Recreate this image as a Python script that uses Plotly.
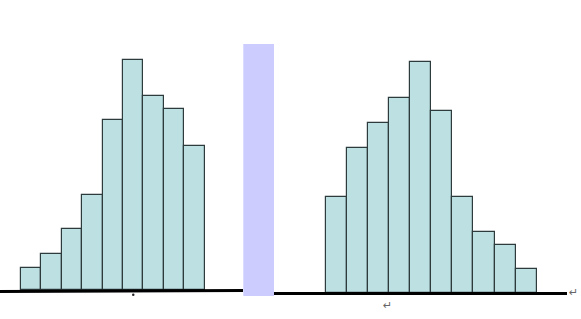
import plotly.graph_objects as go

# ---- data (bar heights) ----
left_bins = list(range(1, 10))
left_counts = [22, 36, 61, 95, 170, 230, 194, 181, 144]
right_bins = list(range(1, 11))
right_counts = [96, 145, 170, 195, 231, 182, 96, 61, 48, 24]

# ---- layout constants (pixel-like coordinate frame) ----
W, H = 581, 319
L_START, L_W, L_BASE = 20.7, 20.45, 319 - 290.0
R_START, R_W, R_BASE = 326.0, 21.07, 319 - 293.3

fill = "#bde0e3"
edge = "#2e3b3c"

fig = go.Figure()
fig.add_trace(go.Bar(
    x=[L_START + (b - 0.5) * L_W for b in left_bins],
    y=left_counts, base=L_BASE, width=L_W,
    marker=dict(color=fill, line=dict(color=edge, width=1.2)),
    hoverinfo="skip", showlegend=False))
fig.add_trace(go.Bar(
    x=[R_START + (b - 0.5) * R_W for b in right_bins],
    y=right_counts, base=R_BASE, width=R_W,
    marker=dict(color=fill, line=dict(color=edge, width=1.2)),
    hoverinfo="skip", showlegend=False))

shapes = [
    dict(type="line", x0=0, x1=243, y0=319 - 291.5, y1=319 - 290.5,
         line=dict(color="black", width=3), layer="above"),
    dict(type="line", x0=274, x1=567, y0=319 - 293.5, y1=319 - 293.5,
         line=dict(color="black", width=3), layer="above"),
    dict(type="rect", x0=243.3, x1=274, y0=319 - 296, y1=319 - 44,
         fillcolor="#ccccff", line=dict(width=0), layer="above"),
    dict(type="circle", x0=132, x1=134.5, y0=319 - 296, y1=319 - 293.5,
         fillcolor="#222", line=dict(width=0), layer="above"),
]

fig.update_layout(
    width=W, height=H,
    margin=dict(l=0, r=0, t=0, b=0),
    paper_bgcolor="white", plot_bgcolor="white",
    bargap=0,
    xaxis=dict(range=[0, W], visible=False, fixedrange=True),
    yaxis=dict(range=[0, H], visible=False, fixedrange=True),
    shapes=shapes,
    annotations=[
        dict(x=387, y=319 - 305, text="↵", showarrow=False,
             font=dict(size=11, color="#666666", family="DejaVu Sans")),
        dict(x=573, y=319 - 292.5, text="↵", showarrow=False,
             font=dict(size=11, color="#666666", family="DejaVu Sans")),
    ],
)

fig.write_html("out.html")
